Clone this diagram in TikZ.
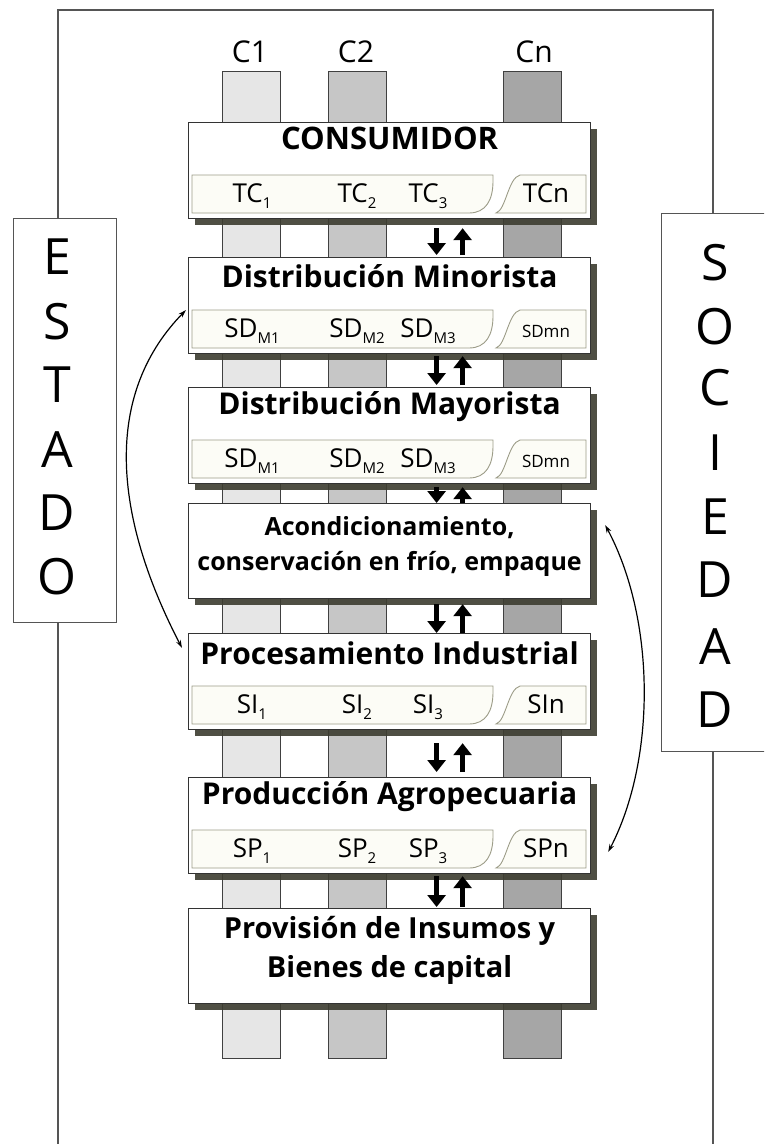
\documentclass[tikz,border=0pt]{standalone}
\usepackage{fontspec}
\setmainfont{Open Sans}
\usetikzlibrary{arrows.meta,shadows}
\definecolor{framec}{HTML}{555555}
\definecolor{colA}{HTML}{E6E6E6}
\definecolor{colB}{HTML}{C6C6C6}
\definecolor{colC}{HTML}{A6A6A6}
\definecolor{shad}{HTML}{3C3C30}
\definecolor{barfill}{HTML}{FCFCF6}
\definecolor{barline}{HTML}{9C9C88}
\newcommand\lowsub[1]{\raisebox{-6.5pt}{\fontsize{15}{15}\selectfont #1}}
\tikzset{
  frameline/.style={draw=framec, line width=1.4pt},
  colbox/.style={draw=black!75, line width=1pt},
  stage/.style={draw=black!80, line width=1.2pt, fill=white, minimum width=402pt,
    minimum height=96pt, anchor=north west, inner sep=0pt,
    drop shadow={shadow xshift=6pt, shadow yshift=-6pt, fill=shad, opacity=0.9}},
  sidebox/.style={draw=framec, line width=1.3pt, fill=white, anchor=north west, inner sep=0pt},
  stitle/.style={font=\fontsize{30}{34}\selectfont\bfseries, anchor=base, inner sep=0pt},
  slabel/.style={font=\fontsize{26}{30}\selectfont, anchor=base, inner sep=0pt},
  collabel/.style={font=\fontsize{30}{34}\selectfont, inner sep=0pt},
  bigletter/.style={font=\fontsize{50}{56}\selectfont, inner sep=0pt},
  barstyle/.style={draw=barline, line width=0.9pt, fill=barfill},
  flowarrow/.style={line width=4.5pt, -{Triangle[width=18pt,length=12pt]}},
  curvearrow/.style={line width=1.2pt, {Stealth[length=8pt,width=5pt]}-{Stealth[length=8pt,width=5pt]}}
}
\newcommand\subbar[5]{%
  \begin{scope}[shift={(#1.north west)}]
    \draw[barstyle] (4,53) -- (305,53) -- (305,59) .. controls (305,78) and (298,91) .. (281,91) -- (4,91) -- cycle;
    \draw[barstyle] (332,53) .. controls (320,56) and (318,88) .. (308,91) -- (398,91) -- (398,53) -- cycle;
    \node[slabel] (#1l1) at (64,80) {#2};
    \node[slabel] (#1l2) at (169,80) {#3};
    \node[slabel] (#1l3) at (240,80) {#4};
    \node[inner sep=0pt, anchor=base] (#1l4) at (358,80) {#5};
  \end{scope}}
\newcommand\pairarrows[4]{%
  \draw[flowarrow] ([xshift=47pt,yshift=-#3pt]#1.south) -- ([xshift=47pt,yshift=#4pt]#2.north);
  \draw[flowarrow] ([xshift=73pt,yshift=#4pt]#2.north) -- ([xshift=73pt,yshift=-#3pt]#1.south);}
\begin{document}
\begin{tikzpicture}[x=1pt,y=-1pt]
\useasboundingbox (0,0) rectangle (764,1144);
\clip (0,0) rectangle (764,1144);
\fill[white] (0,0) rectangle (764,1144);
% frame
\draw[frameline] (58,1150) -- (58,10) -- (713,10) -- (713,1150);
% columns
\draw[colbox, fill=colA] (222,71) rectangle (280,1058);
\draw[colbox, fill=colB] (328,71) rectangle (386,1058);
\draw[colbox, fill=colC] (503,71) rectangle (561,1058);
\node[collabel] (c1) at (250,52) {C1};
\node[collabel] (c2) at (356,52) {C2};
\node[collabel] (cn) at (534,52) {Cn};
% stages
\node[stage] (cons) at (188,122) {};
\node[stage] (mino) at (188,257) {};
\node[stage] (mayo) at (188,387) {};
\node[stage, minimum height=95pt] (acon) at (188,503) {};
\node[stage] (proc) at (188,633) {};
\node[stage] (prod) at (188,777) {};
\node[stage, minimum height=95pt] (prov) at (188,908) {};
% titles
\node[stitle, font=\fontsize{31}{34}\selectfont\bfseries] at ([yshift=-27pt]cons.north) {CONSUMIDOR};
\node[stitle] at ([yshift=-30pt]mino.north) {Distribución Minorista};
\node[stitle] at ([yshift=-27pt]mayo.north) {Distribución Mayorista};
\node[stitle, font=\fontsize{25}{28}\selectfont\bfseries] at ([yshift=-32pt]acon.north) {Acondicionamiento,};
\node[stitle, font=\fontsize{25}{28}\selectfont\bfseries] at ([yshift=-67pt]acon.north) {conservación en frío, empaque};
\node[stitle] at ([yshift=-31pt]proc.north) {Procesamiento Industrial};
\node[stitle] at ([yshift=-27pt]prod.north) {Producción Agropecuaria};
\node[stitle, font=\fontsize{29}{32}\selectfont\bfseries] at ([yshift=-30pt]prov.north) {Provisión de Insumos y};
\node[stitle, font=\fontsize{29}{32}\selectfont\bfseries] at ([yshift=-69pt]prov.north) {Bienes de capital};
% sub bars
\subbar{cons}{TC\lowsub{1}}{TC\lowsub{2}}{TC\lowsub{3}}{\fontsize{26}{30}\selectfont TCn}
\subbar{mino}{SD\lowsub{M1}}{SD\lowsub{M2}}{SD\lowsub{M3}}{\fontsize{17}{20}\selectfont SDmn}
\subbar{mayo}{SD\lowsub{M1}}{SD\lowsub{M2}}{SD\lowsub{M3}}{\fontsize{17}{20}\selectfont SDmn}
\subbar{proc}{SI\lowsub{1}}{SI\lowsub{2}}{SI\lowsub{3}}{\fontsize{26}{30}\selectfont SIn}
\subbar{prod}{SP\lowsub{1}}{SP\lowsub{2}}{SP\lowsub{3}}{\fontsize{26}{30}\selectfont SPn}
% flow arrows
\pairarrows{cons}{mino}{9}{2}
\pairarrows{mino}{mayo}{2}{2}
\pairarrows{mayo}{acon}{3}{0}
\pairarrows{acon}{proc}{5}{0}
\pairarrows{proc}{prod}{13}{5}
\pairarrows{prod}{prov}{2}{1}
% side boxes
\node[sidebox, minimum width=103pt, minimum height=404pt] (estado) at (13,218) {};
\foreach \l/\yy in {E/257,S/322,T/385,A/450,D/513,O/577}
  \node[bigletter] at (57,\yy) {\l};
\node[sidebox, minimum width=110pt, minimum height=538pt] (soc) at (661,213) {};
\foreach \l/\yy in {S/263,O/327,C/388,I/453,E/517,D/580,A/647,D/710}
  \node[bigletter] at (715,\yy) {\l};
% curved arrows
\draw[curvearrow] ([xshift=-2pt,yshift=-53pt]mino.north west) .. controls (108,390) and (108,505) .. ([xshift=-6pt,yshift=-15pt]proc.north west);
\draw[curvearrow] ([xshift=14pt,yshift=-22pt]acon.north east) .. controls (656,620) and (656,760) .. ([xshift=17pt,yshift=-75pt]prod.north east);
\end{tikzpicture}
\end{document}
